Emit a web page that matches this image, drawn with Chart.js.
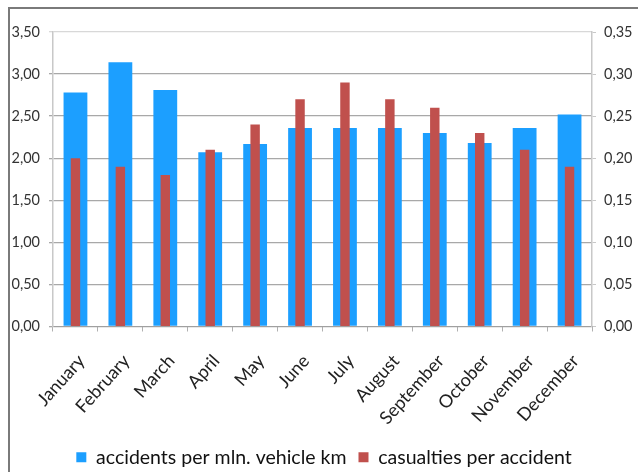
<!DOCTYPE html>
<html>
<head>
<meta charset="utf-8">
<script src="https://cdn.jsdelivr.net/npm/chart.js@4/dist/chart.umd.min.js"></script>
<style>
  html, body { margin: 0; padding: 0; background: #ffffff; overflow: hidden; }
  #frame {
    position: absolute; left: 8px; top: 7px; width: 630px; height: 470px;
    border-top: 2px solid #7a7a7a; border-left: 2px solid #7a7a7a;
    box-sizing: border-box;
  }
  #wrap { position: absolute; left: 0; top: 0; width: 628px; height: 468px; }
</style>
</head>
<body>
<div id="frame"><div id="wrap"><canvas id="c"></canvas></div></div>
<script>
// Monthly road safety indicators
const months = ['January', 'February', 'March', 'April', 'May', 'June',
                'July', 'August', 'September', 'October', 'November', 'December'];
const accidentsPerMlnVehicleKm = [2.78, 3.14, 2.81, 2.07, 2.17, 2.36, 2.36, 2.36, 2.30, 2.18, 2.36, 2.52];
const casualtiesPerAccident = [0.20, 0.19, 0.18, 0.21, 0.24, 0.27, 0.29, 0.27, 0.26, 0.23, 0.21, 0.19];
const leftTicks = [0, 0.5, 1, 1.5, 2, 2.5, 3, 3.5];
const rightTicks = [0, 0.05, 0.10, 0.15, 0.20, 0.25, 0.30, 0.35];

const FONT = 'Lato, "Open Sans", sans-serif';
const fmt = v => v.toFixed(2).replace('.', ',');

new Chart(document.getElementById('c'), {
  type: 'bar',
  data: {
    labels: months,
    datasets: [
      {
        label: 'accidents per mln. vehicle km',
        data: accidentsPerMlnVehicleKm,
        backgroundColor: '#1c9fff',
        yAxisID: 'y',
        grouped: false,
        order: 2,
        categoryPercentage: 1,
        barPercentage: 0.53
      },
      {
        label: 'casualties per accident',
        data: casualtiesPerAccident,
        backgroundColor: '#c0504d',
        yAxisID: 'y2',
        grouped: false,
        order: 1,
        categoryPercentage: 1,
        barPercentage: 0.21
      }
    ]
  },
  options: {
    responsive: true,
    maintainAspectRatio: false,
    animation: false,
    layout: { padding: { left: 0, right: 0, top: 23, bottom: 0 } },
    plugins: {
      tooltip: { enabled: false },
      legend: {
        position: 'bottom',
        labels: {
          font: { family: FONT, size: 19.5 },
          color: '#111111',
          boxWidth: 10,
          boxHeight: 10,
          padding: 12,
          sort: (a, b) => a.datasetIndex - b.datasetIndex
        }
      }
    },
    scales: {
      x: {
        offset: true,
        afterFit: s => { s.height = 109; },
        grid: {
          drawOnChartArea: false,
          offset: true,
          color: '#b0b0b0',
          tickLength: 5
        },
        border: { color: '#a0a0a0' },
        ticks: {
          minRotation: 48, maxRotation: 48,
          font: { family: FONT, size: 18 },
          color: '#222222',
          padding: 19,
          labelOffset: 6
        }
      },
      y: {
        position: 'left',
        min: 0, max: 3.5,
        afterFit: s => { s.width = 43; },
        afterBuildTicks: s => { s.ticks = leftTicks.map(v => ({ value: v })); },
        grid: {
          color: ctx => (ctx.tick && ctx.tick.value === 3.5) ? '#d8d8d8' : '#a8a8a8',
          lineWidth: 1.3,
          tickLength: 4
        },
        border: { color: '#c8c8c8', width: 1.5 },
        ticks: {
          font: { family: FONT, size: 14.5 },
          color: '#333333',
          padding: 9,
          callback: v => fmt(v)
        }
      },
      y2: {
        position: 'right',
        min: 0, max: 0.35,
        afterFit: s => { s.width = 46; },
        afterBuildTicks: s => { s.ticks = rightTicks.map(v => ({ value: v })); },
        grid: {
          drawOnChartArea: false,
          color: '#c8c8c8',
          tickLength: 4
        },
        border: { color: '#c8c8c8', width: 1.5 },
        ticks: {
          font: { family: FONT, size: 14.5 },
          color: '#333333',
          padding: 8,
          callback: v => fmt(v)
        }
      }
    }
  }
});
</script>
</body>
</html>
